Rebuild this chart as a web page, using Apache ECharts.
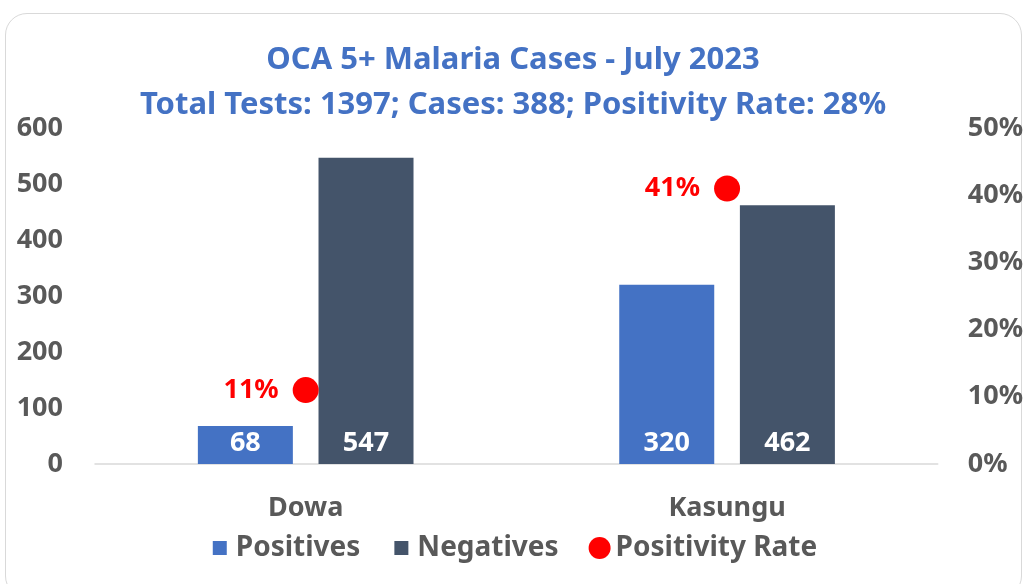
<!DOCTYPE html>
<html>
<head>
<meta charset="utf-8">
<script src="https://cdn.jsdelivr.net/npm/echarts@6/dist/echarts.min.js"></script>
<style>
  html, body { margin: 0; padding: 0; background: #fff; }
  .frame { position: absolute; left: 5px; top: 13px; width: 1017px; height: 585px; border: 1px solid #d9d9d9; border-radius: 22px; box-sizing: border-box; }
  .chart-box { position: absolute; left: 0; top: 0; width: 1026px; height: 584px; }
</style>
</head>
<body>
<div class="frame"></div>
<div id="chart" class="chart-box"></div>
<script>
const FONT = "Noto Sans";
const data = [
  { district: "Dowa", positives: 68, negatives: 547, rate: 0.11 },
  { district: "Kasungu", positives: 320, negatives: 462, rate: 0.41 },
];

const chart = echarts.init(document.getElementById("chart"));

// square smaller than the circle marker in the legend
const smallSquare = "path://M0,0M22,22M4,4L18,4L18,18L4,18Z";

const barLabel = {
  show: true,
  position: "insideBottom",
  distance: 7,
  color: "#fff",
  fontWeight: "bold",
  fontSize: 27,
  fontFamily: FONT,
};

const axisText = { color: "#595959", fontSize: 27, fontWeight: "bold", fontFamily: FONT };

const option = {
  backgroundColor: "transparent",
  textStyle: { fontFamily: FONT },
  title: {
    text: "OCA 5+ Malaria Cases - July 2023\nTotal Tests: 1397; Cases: 388; Positivity Rate: 28%",
    left: "center",
    top: 33,
    textStyle: { color: "#4472C4", fontSize: 31, fontWeight: "bold", lineHeight: 45, fontFamily: FONT },
  },
  legend: {
    bottom: 17,
    left: "center",
    itemWidth: 22,
    itemHeight: 22,
    itemGap: 30,
    textStyle: { color: "#595959", fontSize: 28, fontWeight: "bold", fontFamily: FONT },
    data: [
      { name: "Positives", icon: smallSquare },
      { name: "Negatives", icon: smallSquare },
      { name: "Positivity Rate", icon: "circle", itemStyle: { color: "#ff0000", opacity: 1 } },
    ],
  },
  grid: { left: 95, right: 88, top: 128, bottom: 120 },
  xAxis: {
    type: "category",
    data: data.map((d) => d.district),
    axisLine: { lineStyle: { color: "#d9d9d9", width: 1.5 } },
    axisTick: { show: false },
    axisLabel: { ...axisText, margin: 31 },
  },
  yAxis: [
    {
      type: "value",
      min: 0, max: 600, interval: 100,
      splitLine: { show: false },
      axisLabel: { ...axisText, margin: 32 },
    },
    {
      type: "value",
      min: 0, max: 0.5, interval: 0.1,
      splitLine: { show: false },
      axisLabel: { ...axisText, margin: 30, formatter: (v) => Math.round(v * 100) + "%" },
    },
  ],
  series: [
    {
      name: "Positives",
      type: "bar",
      barWidth: 95,
      barGap: "27%",
      data: data.map((d) => d.positives),
      itemStyle: { color: "#4472C4" },
      label: barLabel,
    },
    {
      name: "Negatives",
      type: "bar",
      barWidth: 95,
      data: data.map((d) => d.negatives),
      itemStyle: { color: "#44546A" },
      label: barLabel,
    },
    {
      name: "Positivity Rate",
      type: "scatter",
      yAxisIndex: 1,
      symbolSize: 26,
      z: 5,
      data: data.map((d) => d.rate),
      itemStyle: { color: "#ff0000", opacity: 1 },
      label: {
        show: true,
        position: "left",
        distance: 14,
        color: "#ff0000",
        fontSize: 27,
        fontWeight: "bold",
        fontFamily: FONT,
        formatter: (p) => Math.round(p.value * 100) + "%",
      },
    },
  ],
};

chart.setOption(option);
window.addEventListener("resize", () => chart.resize());
</script>
</body>
</html>
